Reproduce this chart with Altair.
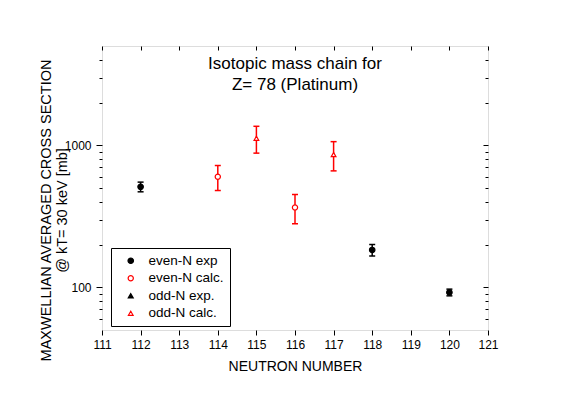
import altair as alt
import pandas as pd

# ---- data ----
neutron_number = [112, 114, 115, 116, 117, 118, 120]
cross_section = [510, 600, 1120, 365, 860, 183, 92]
cross_section_err = [40, 120, 240, 85, 200, 17, 5]
series = ["even-N exp", "even-N calc.", "odd-N calc.", "even-N calc.",
          "odd-N calc.", "even-N exp", "even-N exp"]
series_order = ["even-N exp", "even-N calc.", "odd-N exp.", "odd-N calc."]
x_ticks = list(range(111, 122))
y_major = [100, 1000]
y_minor = [60, 70, 80, 90, 200, 300, 400, 500, 600, 700, 800, 900, 2000, 3000, 4000]

df = pd.DataFrame({"N": neutron_number, "sigma": cross_section,
                   "err": cross_section_err, "series": series})
df["lo"] = df["sigma"] - df["err"]
df["hi"] = df["sigma"] + df["err"]
df["kind"] = ["calc" if "calc" in s else "exp" for s in series]

FONT = "Liberation Sans"
MAJOR = "datum.value == 100 || datum.value == 1000"
y_vals = sorted(y_major + y_minor)

xscale = alt.Scale(domain=[111, 121], nice=False, zero=False)
yscale = alt.Scale(type="log", domain=[50, 5000], nice=False)
kind_color = alt.Color("kind:N", scale=alt.Scale(domain=["exp", "calc"], range=["black", "red"]), legend=None)

x_bottom = alt.X("N:Q", scale=xscale, axis=alt.Axis(
    values=x_ticks, format="d", title="NEUTRON NUMBER", domain=False, grid=False,
    tickSize=5, tickColor="black", labelFont=FONT, labelFontSize=12, labelColor="black",
    labelPadding=4, labelFlush=False, labelOverlap=False,
    titleFont=FONT, titleFontSize=14, titleFontWeight="normal", titleColor="black",
    titleBaseline="alphabetic", titleY=40.5))
y_left = alt.Y("lo:Q", scale=yscale, axis=alt.Axis(
    values=y_vals, format=".0f", labelExpr=f"({MAJOR}) ? datum.label : ''",
    domain=False, grid=False, tickSize=6, tickColor="black",
    tickDash={"condition": {"test": MAJOR, "value": [6, 0]}, "value": [3, 20]},
    labelFont=FONT, labelFontSize=12, labelColor="black", labelPadding=5,
    labelOverlap=False, labelFlush=False,
    title=["MAXWELLIAN AVERAGED CROSS SECTION", "@ kT= 30 keV [mb]"],
    titleFont=FONT, titleFontSize=14.5, titleFontWeight="normal", titleColor="black",
    titleAngle=270, titleX=-52, titleY=164, titleBaseline="alphabetic",
    titleAlign="center", titleLineHeight=16))

x_top = alt.X("N:Q", scale=xscale, axis=alt.Axis(
    orient="top", values=x_ticks, labels=False, title=None, domain=False, grid=False,
    offset=-4, tickSize=4, tickColor="black"))
y_right = alt.Y("lo:Q", scale=yscale, axis=alt.Axis(
    orient="right", values=y_vals, labels=False, title=None, domain=False, grid=False,
    offset=-5, tickSize=5, tickColor="black",
    tickDash={"condition": {"test": MAJOR, "value": [5, 0]}, "value": [0, 2, 3, 20]}))

x_none = alt.X("N:Q", scale=xscale, axis=None)

rules = alt.Chart(df).mark_rule(strokeWidth=1.5).encode(
    x=x_bottom, y=y_left, y2="hi:Q", color=kind_color)
caps_lo = alt.Chart(df).mark_tick(orient="horizontal", size=6, thickness=1.5, opacity=1).encode(
    x=x_top, y=y_right, color=kind_color)
caps_hi = alt.Chart(df).mark_tick(orient="horizontal", size=6, thickness=1.5, opacity=1).encode(
    x=x_none, y=alt.Y("hi:Q", scale=yscale, axis=None), color=kind_color)

leg = alt.Legend(title=None, orient="none", legendX=9, legendY=202,
                 strokeColor="black", fillColor="white", padding=6, rowPadding=2.5,
                 labelFont=FONT, labelFontSize=13.5, labelColor="black",
                 symbolOffset=7, labelOffset=11, symbolStrokeWidth=1.2)
points = alt.Chart(df).mark_point(opacity=1, strokeWidth=1.2).encode(
    x=x_none,
    y=alt.Y("sigma:Q", scale=yscale, axis=None),
    stroke=alt.Stroke("series:N", scale=alt.Scale(domain=series_order, range=["black", "red", "black", "red"]), legend=leg),
    fill=alt.Fill("series:N", scale=alt.Scale(domain=series_order, range=["black", "white", "black", "white"]), legend=leg),
    shape=alt.Shape("series:N", scale=alt.Scale(domain=series_order, range=["circle", "circle", "triangle-up", "triangle-up"]), legend=leg),
    size=alt.Size("series:N", scale=alt.Scale(domain=series_order, range=[30, 22, 45, 45]), legend=leg),
)

chart = alt.layer(rules, caps_lo, caps_hi, points).resolve_axis(
    x="independent", y="independent"
).properties(
    width=386, height=284,
    title=alt.TitleParams(text=["Isotopic mass chain for", "Z= 78 (Platinum)"],
                          font=FONT, fontSize=17, fontWeight="normal", color="black",
                          anchor="middle", baseline="alphabetic", lineHeight=21,
                          offset=-23, dy=38),
    padding={"left": 94, "top": 38, "right": 60, "bottom": 50},
    autosize=alt.AutoSizeParams(type="none"),
).configure_view(stroke="black", strokeWidth=1).configure(background="white")

chart.save("out.html", embed_options={"renderer": "svg", "actions": False})
